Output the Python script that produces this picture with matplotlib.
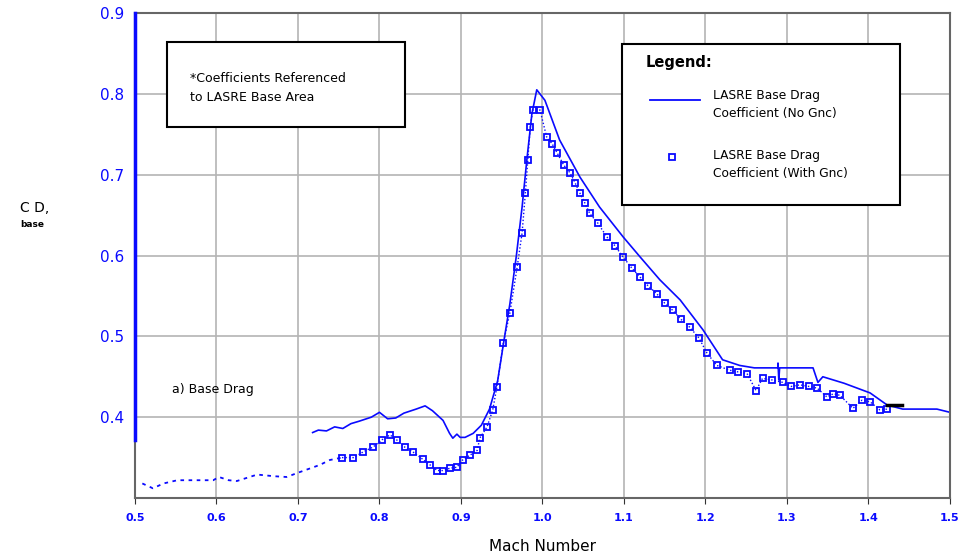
import numpy as np
import matplotlib
matplotlib.use('Agg')
import matplotlib.pyplot as plt
from matplotlib.patches import Rectangle
from matplotlib.lines import Line2D

# LASRE base drag coefficient, no Gnc (solid line)
mach_nognc = [0.718, 0.725, 0.735, 0.745, 0.755, 0.765, 0.775, 0.790, 0.800, 0.810,
              0.820, 0.830, 0.845, 0.856, 0.865, 0.878, 0.886, 0.890, 0.895, 0.899,
              0.905, 0.915, 0.925, 0.935, 0.945, 0.952, 0.960, 0.968, 0.975, 0.981,
              0.987, 0.993, 1.003, 1.021, 1.046, 1.070, 1.099, 1.120, 1.144, 1.169,
              1.197, 1.221, 1.242, 1.260, 1.289, 1.289, 1.290, 1.291, 1.332, 1.338,
              1.344, 1.370, 1.402, 1.423, 1.442, 1.484, 1.500]
cd_nognc = [0.381, 0.384, 0.383, 0.388, 0.386, 0.392, 0.395, 0.400, 0.406, 0.398,
            0.399, 0.405, 0.410, 0.414, 0.408, 0.396, 0.380, 0.374, 0.379, 0.375,
            0.375, 0.380, 0.390, 0.410, 0.445, 0.490, 0.540, 0.600, 0.660, 0.720,
            0.775, 0.805, 0.792, 0.743, 0.697, 0.660, 0.623, 0.598, 0.570, 0.545,
            0.508, 0.471, 0.464, 0.461, 0.461, 0.467, 0.446, 0.461, 0.461, 0.443,
            0.450, 0.442, 0.430, 0.415, 0.410, 0.410, 0.406]

# low-Mach dotted segment (with Gnc, no symbols)
mach_dotted = [0.509, 0.522, 0.535, 0.552, 0.575, 0.596, 0.603, 0.615, 0.625, 0.650,
               0.670, 0.686, 0.702, 0.727, 0.739, 0.754]
cd_dotted = [0.318, 0.312, 0.318, 0.322, 0.322, 0.322, 0.326, 0.322, 0.321, 0.329,
             0.327, 0.326, 0.332, 0.341, 0.347, 0.350]

# LASRE base drag coefficient, with Gnc (square symbols)
mach_gnc = [0.754, 0.768, 0.780, 0.792, 0.803, 0.813, 0.821, 0.831, 0.841, 0.853,
            0.862, 0.871, 0.878, 0.887, 0.895, 0.902, 0.911, 0.920, 0.923, 0.932,
            0.939, 0.944, 0.952, 0.960, 0.969, 0.975, 0.979, 0.982, 0.985, 0.988,
            0.997, 1.005, 1.012, 1.018, 1.026, 1.034, 1.040, 1.046, 1.052, 1.058,
            1.068, 1.079, 1.089, 1.099, 1.110, 1.120, 1.130, 1.140, 1.150, 1.160,
            1.170, 1.181, 1.192, 1.202, 1.214, 1.230, 1.240, 1.251, 1.262, 1.270,
            1.282, 1.295, 1.305, 1.316, 1.327, 1.337, 1.349, 1.357, 1.365, 1.381,
            1.392, 1.402, 1.414, 1.423]
cd_gnc = [0.350, 0.350, 0.357, 0.363, 0.372, 0.378, 0.372, 0.363, 0.357, 0.348,
          0.341, 0.334, 0.334, 0.337, 0.338, 0.347, 0.353, 0.359, 0.374, 0.388,
          0.409, 0.437, 0.492, 0.529, 0.586, 0.628, 0.677, 0.718, 0.759, 0.780,
          0.780, 0.747, 0.738, 0.727, 0.712, 0.702, 0.690, 0.677, 0.665, 0.652,
          0.640, 0.623, 0.612, 0.598, 0.584, 0.573, 0.562, 0.553, 0.541, 0.532,
          0.521, 0.511, 0.498, 0.479, 0.464, 0.458, 0.456, 0.454, 0.433, 0.448,
          0.446, 0.443, 0.438, 0.440, 0.438, 0.436, 0.425, 0.429, 0.427, 0.411,
          0.421, 0.419, 0.409, 0.410]

# short dark overlap segment near the end
mach_dark = [1.423, 1.441]
cd_dark = [0.415, 0.415]

x_ticks = [0.5, 0.6, 0.7, 0.8, 0.9, 1.0, 1.1, 1.2, 1.3, 1.4, 1.5]
y_ticks = [0.4, 0.5, 0.6, 0.7, 0.8, 0.9]

BLUE = '#0a0aff'

fig = plt.figure(figsize=(9.58, 5.56), dpi=100)
ax = fig.add_axes([0.1409, 0.1043, 0.8507, 0.8723])

ax.plot(mach_dotted, cd_dotted, color=BLUE, lw=1.3, linestyle=(0, (2, 2.5)))
ax.plot(mach_gnc, cd_gnc, color=BLUE, lw=1.0, linestyle=(0, (1, 1.5)),
        marker='s', ms=4.2, mfc='none', mec=BLUE, mew=1.3)
ax.plot(mach_nognc, cd_nognc, color=BLUE, lw=1.2)
ax.plot(mach_dark, cd_dark, color='black', lw=2.5)

ax.set_xlim(0.5, 1.5)
ax.set_ylim(0.3, 0.9)
ax.set_xticks(x_ticks)
ax.set_yticks(y_ticks)
ax.set_xticklabels([f'{v:.1f}' for v in x_ticks], color=BLUE, fontsize=8, fontweight='bold')
ax.set_yticklabels([f'{v:.1f}' for v in y_ticks], color=BLUE, fontsize=11)
ax.tick_params(axis='x', direction='out', length=4, color='#333333', pad=7)
ax.tick_params(axis='y', length=0, pad=8)
ax.grid(True, color='#b4b4b4', lw=1.2)
ax.set_axisbelow(True)
for s in ax.spines.values():
    s.set_color('#666666')
    s.set_linewidth(1.5)

# blue portion of the left axis
ax.plot([0.5, 0.5], [0.372, 0.9], color=BLUE, lw=2.5, clip_on=False, zorder=5)

ax.set_xlabel('Mach Number', fontsize=11, labelpad=11)
fig.text(0.021, 0.626, 'C D,', fontsize=10, ha='left', va='center')
fig.text(0.021, 0.597, 'base', fontsize=6.5, fontweight='bold', ha='left', va='center')

# note box
ax.add_patch(Rectangle((0.039, 0.765), 0.292, 0.175, transform=ax.transAxes,
                       fill=True, facecolor='white', edgecolor='black', lw=1.5, zorder=6))
ax.text(0.067, 0.845, '*Coefficients Referenced\nto LASRE Base Area', transform=ax.transAxes,
        fontsize=9, va='center', ha='left', linespacing=1.6, zorder=7)

ax.text(0.045, 0.223, 'a) Base Drag', transform=ax.transAxes, fontsize=9,
        va='center', ha='left')

# legend box
ax.add_patch(Rectangle((0.598, 0.604), 0.341, 0.332, transform=ax.transAxes,
                       fill=True, facecolor='white', edgecolor='black', lw=1.5, zorder=6))
ax.text(0.626, 0.897, 'Legend:', transform=ax.transAxes, fontsize=10.5, fontweight='bold',
        va='center', ha='left', zorder=7)
ax.add_line(Line2D([0.632, 0.693], [0.821, 0.821], transform=ax.transAxes,
                   color=BLUE, lw=1.3, zorder=7))
ax.text(0.709, 0.812, 'LASRE Base Drag\nCoefficient (No Gnc)', transform=ax.transAxes,
        fontsize=8.8, va='center', ha='left', linespacing=1.5, zorder=7)
ax.add_line(Line2D([0.659], [0.703], transform=ax.transAxes, marker='s', ms=4.2,
                   mfc='none', mec=BLUE, mew=1.3, zorder=7))
ax.text(0.709, 0.688, 'LASRE Base Drag\nCoefficient (With Gnc)', transform=ax.transAxes,
        fontsize=8.8, va='center', ha='left', linespacing=1.5, zorder=7)

fig.savefig('out.png', dpi=100)
